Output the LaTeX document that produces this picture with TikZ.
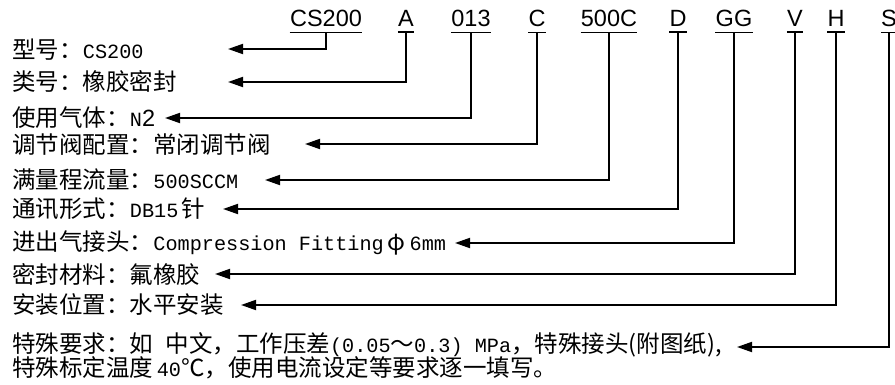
\documentclass[tikz,border=0pt]{standalone}
\usepackage{fontspec}
\setmainfont{Liberation Mono}[Scale=0.86]
\newfontfamily\cjk{Noto Sans CJK SC}
\newfontfamily\codefont{Liberation Sans}
\usetikzlibrary{arrows.meta}

\begin{document}
\begin{tikzpicture}[x=0.5pt, y=-0.5pt,
    codebox/.style={anchor=base, inner xsep=0pt, inner ysep=2.4pt,
      font=\codefont\fontsize{11.75}{14}\selectfont,
      append after command={(\tikzlastnode.south west)
        edge[line width=0.8pt] (\tikzlastnode.south east)}},
    descr/.style={anchor=west, inner sep=0pt, font=\fontsize{11.75}{14}\selectfont},
    arr/.style={line width=0.9pt, -{Triangle[length=7.5pt, width=5pt]}}]
  \useasboundingbox (0,0) rectangle (895,385);

  % order code, left to right
  \node[codebox] (model) at (326,27) {CS200};
  \node[codebox] (cat)   at (406,27) {A};
  \node[codebox] (gas)   at (471,27) {013};
  \node[codebox] (valve) at (537,27) {C};
  \node[codebox] (range) at (609,27) {500C};
  \node[codebox] (comm)  at (678,27) {D};
  \node[codebox] (fit)   at (734,27) {GG};
  \node[codebox] (seal)  at (795,27) {V};
  \node[codebox] (mount) at (836,27) {H};
  \node[codebox] (spec)  at (889,27) {S};

  % meaning of each field
  \node[descr] (lmodel) at (12,50)  {{\cjk 型号：}CS200};
  \node[descr] (lcat)   at (12,82)  {\cjk 类号：橡胶密封};
  \node[descr] (lgas)   at (12,118) {{\cjk 使用气体：}N{\codefont 2}};
  \node[descr] (lvalve) at (12,145) {\cjk 调节阀配置：常闭调节阀};
  \node[descr] (lrange) at (12,180) {{\cjk 满量程流量：}500SCCM};
  \node[descr] (lcomm)  at (12,209) {{\cjk 通讯形式：}DB15\,{\cjk 针}};
  \node[descr] (lfit)   at (12,243) {{\cjk 进出气接头：}Compression Fitting\hspace{2pt}{\cjk φ}\hspace{2pt}6mm};
  \node[descr] (lseal)  at (12,275) {\cjk 密封材料：氟橡胶};
  \node[descr] (lmount) at (12,305) {\cjk 安装位置：水平安装};
  \node[descr] (lspec)  at (12,345)
    {{\cjk 特殊要求：如}~{\cjk 中文，工作压差}(0.05{\cjk ～}0.3) MPa{\cjk ，特殊接头(附图纸),}};
  \node[descr] (lspec2) at (12,368)
    {{\cjk 特殊标定温度}\,40{\cjk ℃，使用电流设定等要求逐一填写。}};

  % arrow ends
  \coordinate (tmodel) at (228,49);
  \coordinate (tcat)   at (228,82);
  \coordinate (tgas)   at (165,118);
  \coordinate (tvalve) at (305,144);
  \coordinate (trange) at (265,180);
  \coordinate (tcomm)  at (223,209);
  \coordinate (tfit)   at (455,243);
  \coordinate (tseal)  at (215,274);
  \coordinate (tmount) at (241,305);
  \coordinate (tspec)  at (737,347);

  \foreach \n in {model,cat,gas,valve,range,comm,fit,seal,mount,spec}
    \draw[arr] (\n.south) |- (t\n);
\end{tikzpicture}
\end{document}
